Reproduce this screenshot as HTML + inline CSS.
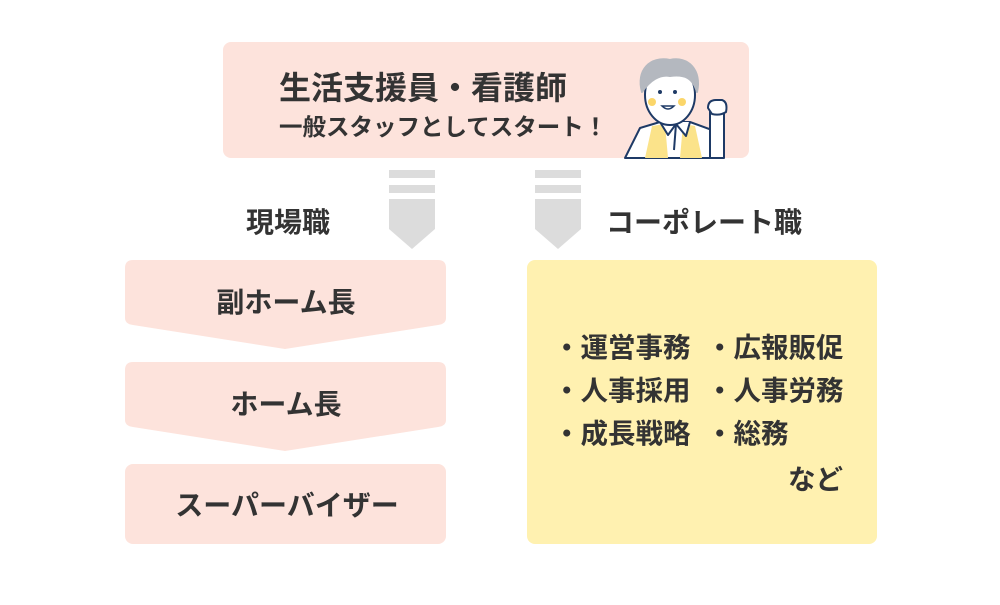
<!DOCTYPE html>
<html><head><meta charset="utf-8"><style>
body{margin:0;background:#fff;}
svg text{font-family:"Liberation Sans","Noto Sans CJK JP",sans-serif;font-weight:bold;fill:#333;}
</style></head><body>
<svg width="1000" height="600" viewBox="0 0 1000 600" xmlns="http://www.w3.org/2000/svg">
<rect x="223" y="42" width="526" height="116" rx="8" fill="#fde3dc"/>
<text x="279" y="99" font-size="32">生活支援員・看護師</text>
<text x="279" y="135" font-size="23.5">一般スタッフとしてスタート！</text>
<!-- person -->
<g stroke="#1e3a66" stroke-width="2" stroke-linejoin="round">
<path d="M625 158 L640 128 L660 122 L690 122 L712 130 L720 158 Z" fill="#fff"/>
<path d="M645 158 L652 126 L665 124 L668 158 Z" fill="#fbe38a" stroke="none"/>
<path d="M680 158 L683 124 L695 126 L702 158 Z" fill="#fbe38a" stroke="none"/>
<path d="M660 122 L668 135 L676 124 L686 136 L690 122" fill="#fff"/>
<path d="M676 124 L674 150" fill="none"/>
<ellipse cx="670" cy="95" rx="25" ry="30" fill="#fff"/>
<path d="M642 92 C636 70 650 56 670 60 C688 56 702 70 697 92 C693 78 685 74 670 76 C660 74 650 80 642 92Z" fill="#b4b8bf" stroke="#b4b8bf"/>
<rect x="710" y="108" width="14" height="50" fill="#fff"/>
<path d="M708 108 Q708 100 716 100 L722 100 Q728 102 726 112 Q720 116 712 114 Z" fill="#fff"/>
</g>
<circle cx="652" cy="102" r="4" fill="#fbd66a"/><circle cx="682" cy="102" r="4" fill="#fbd66a"/>
<circle cx="660" cy="92" r="2" fill="#1e3a66"/><circle cx="675" cy="92" r="2" fill="#1e3a66"/>
<path d="M662 106 Q668 112 674 106 Z" fill="#fff" stroke="#1e3a66" stroke-width="1.5"/>
<!-- arrows -->
<g fill="#dcdcdc">
<rect x="389" y="170" width="46" height="8"/><rect x="389" y="185" width="46" height="8"/>
<path d="M389 199 H435 V229 L412 249 L389 229 Z"/>
<rect x="535" y="170" width="46" height="8"/><rect x="535" y="185" width="46" height="8"/>
<path d="M535 199 H581 V229 L558 249 L535 229 Z"/>
</g>
<text x="288" y="232" font-size="28" text-anchor="middle">現場職</text>
<text x="704" y="232" font-size="28" text-anchor="middle">コーポレート職</text>
<g fill="#fde3dc">
<path d="M133 260 H438 Q446 260 446 268 V318 Q446 324 438 325 L285 349 L133 325 Q125 324 125 318 V268 Q125 260 133 260Z"/>
<path d="M133 362 H438 Q446 362 446 370 V420 Q446 426 438 427 L285 451 L133 427 Q125 426 125 420 V370 Q125 362 133 362Z"/>
<rect x="125" y="464" width="321" height="80" rx="8"/>
</g>
<text x="286" y="312" font-size="28" text-anchor="middle">副ホーム長</text>
<text x="286" y="414" font-size="28" text-anchor="middle">ホーム長</text>
<text x="287" y="515" font-size="28" text-anchor="middle">スーパーバイザー</text>
<rect x="527" y="260" width="350" height="284" rx="8" fill="#fff1b0"/>
<g font-size="27.5">
<text x="553" y="357">・運営事務</text><text x="706" y="357">・広報販促</text>
<text x="553" y="400">・人事採用</text><text x="706" y="400">・人事労務</text>
<text x="553" y="443">・成長戦略</text><text x="706" y="443">・総務</text>
<text x="843" y="489" text-anchor="end">など</text>
</g>
</svg>
</body></html>
